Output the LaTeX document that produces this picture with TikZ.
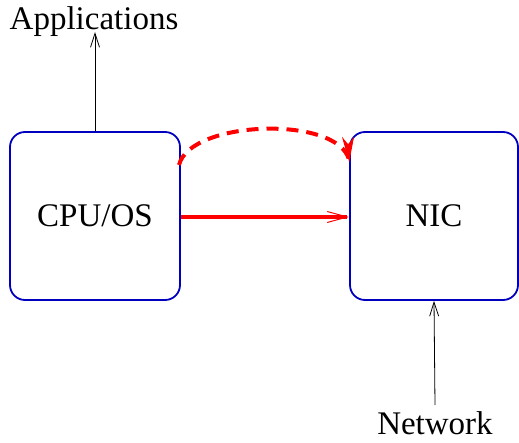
\documentclass[tikz,border=0pt]{standalone}
\usepackage{fontspec}
\setmainfont{Liberation Serif}
\usetikzlibrary{arrows.meta}
\definecolor{boxblue}{RGB}{0,0,190}
\begin{document}
\begin{tikzpicture}[x=1pt,y=1pt,
  bigtext/.style={font=\fontsize{33}{40}\selectfont},
  unit/.style={draw=boxblue,line width=1.8pt,rounded corners=15pt,
    minimum width=170pt,minimum height=168pt,bigtext},
  label/.style={bigtext,inner sep=0pt,anchor=base},
  feed/.style={black,line width=0.8pt,-{Straight Barb[length=14pt,width=9pt]}},
  path/.style={red,line width=4pt},
]
\useasboundingbox (0,0) rectangle (519,442);
% the two units
\node[unit] (cpu) at (95,226) {CPU/OS};
\node[unit,minimum width=168pt] (nic) at (434,226) {NIC};
% outer labels
\node[label] (apps) at (94,412) {Applications};
\node[label] (net) at (435,8) {Network};
\coordinate (netfoot) at (435,37);
% upward feeds
\draw[feed] (cpu.north) -- ([yshift=-2pt]cpu.north |- apps.base);
\draw[feed] (netfoot) -- (nic.south);
% direct path CPU -> NIC
\draw[path,-{Straight Barb[length=20pt,width=11pt,line width=1pt]}]
  ([yshift=-1pt]cpu.east) -- ([yshift=-1pt]nic.west);
% indirect path drawn dashed, with a solid head
\coordinate (dstart) at (179,277);
\coordinate (dend) at ([yshift=56pt]nic.west);
\draw[path,dash pattern=on 12pt off 8pt]
  (dstart) .. controls (190,322) and (338,327) .. (dend);
\draw[red,fill=red,line width=1pt,line join=miter]
  (dend) -- ++(-6,21) -- ++(5,-6) -- ++(5,6) -- cycle;
\end{tikzpicture}
\end{document}
